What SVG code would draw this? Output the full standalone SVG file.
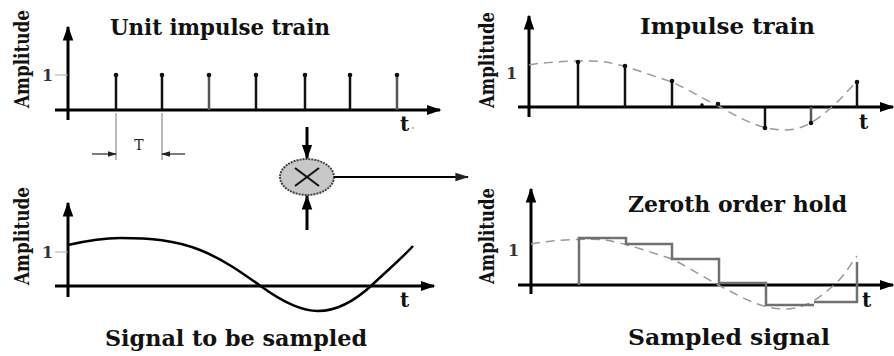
<svg xmlns="http://www.w3.org/2000/svg" width="894" height="356" viewBox="0 0 894 356" font-family="'DejaVu Serif', 'Liberation Serif', serif">
<defs>
<marker id="ah" viewBox="0 0 10 10" refX="9" refY="5" markerWidth="5" markerHeight="5" orient="auto-start-reverse" markerUnits="strokeWidth">
<path d="M0,1.5 L10,5 L0,8.5 z" fill="#000"/>
</marker>
<marker id="ahs" viewBox="0 0 10 10" refX="9" refY="5" markerWidth="7" markerHeight="7" orient="auto-start-reverse" markerUnits="strokeWidth">
<path d="M0,2 L10,5 L0,8 z" fill="#222"/>
</marker>
</defs>
<style>
text{font-family:'DejaVu Serif','Liberation Serif',serif}
.ttl{font-weight:bold;font-size:22px;fill:#111}
.amp{font-weight:bold;font-size:21px;fill:#111}
.one{font-weight:bold;font-size:16px;fill:#333}
.tl{font-weight:bold;font-size:20px;fill:#111}
.axx{stroke:#000;stroke-width:3;fill:none;marker-end:url(#ah)}
.imp{stroke:#111;stroke-width:2.5}
.impg{stroke:#555;stroke-width:2.5}
.tick{stroke:#aaa;stroke-width:1}
.dash{stroke:#999;stroke-width:1.5;fill:none;stroke-dasharray:9 6}
.stair{stroke:#707070;stroke-width:2.5;fill:none}
.sig{stroke:#000;stroke-width:2.5;fill:none}
.conn{stroke:#000;stroke-width:3;fill:none;marker-end:url(#ah)}
</style>
<rect width="894" height="356" fill="#fff"/>

<g id="unit-impulse-train">
<text class="ttl" x="110" y="35" textLength="220" lengthAdjust="spacingAndGlyphs">Unit impulse train</text>
<text class="amp" transform="translate(29,59) rotate(-90) scale(0.742,1)" text-anchor="middle" textLength="132" lengthAdjust="spacingAndGlyphs">Amplitude</text>
<line class="axx" x1="68" y1="120" x2="68" y2="27"/>
<line class="axx" x1="55" y1="110" x2="440" y2="110"/>
<line class="tick" x1="55" y1="75" x2="68" y2="75"/>
<text class="one" x="42" y="81">1</text>
<g fill="#111">
<line class="imp" x1="116" y1="110" x2="116" y2="75"/><circle cx="116" cy="75" r="2.3"/>
<line class="imp" x1="162" y1="110" x2="162" y2="75"/><circle cx="162" cy="75" r="2.3"/>
<line class="impg" x1="209" y1="110" x2="209" y2="75"/><circle cx="209" cy="75" r="2.3"/>
<line class="imp" x1="256" y1="110" x2="256" y2="75"/><circle cx="256" cy="75" r="2.3"/>
<line class="imp" x1="305" y1="110" x2="305" y2="75"/><circle cx="305" cy="75" r="2.3"/>
<line class="imp" x1="350" y1="110" x2="350" y2="75"/><circle cx="350" cy="75" r="2.3"/>
<line class="impg" x1="397" y1="110" x2="397" y2="75"/><circle cx="397" cy="75" r="2.3"/>
</g>
<text class="tl" x="400" y="131">t</text>
<circle cx="413" cy="128" r="0.8" fill="#666"/>
<line x1="116" y1="113" x2="116" y2="160" stroke="#777" stroke-width="1"/>
<line x1="162" y1="113" x2="162" y2="160" stroke="#777" stroke-width="1"/>
<line x1="92" y1="154" x2="116" y2="154" stroke="#333" stroke-width="1.3" marker-end="url(#ahs)"/>
<line x1="185" y1="154" x2="162" y2="154" stroke="#333" stroke-width="1.3" marker-end="url(#ahs)"/>
<text x="139" y="150" text-anchor="middle" font-size="14" fill="#222">T</text>
</g>

<g id="impulse-train">
<text class="ttl" x="640" y="34" textLength="175" lengthAdjust="spacingAndGlyphs">Impulse train</text>
<text class="amp" transform="translate(494,60) rotate(-90) scale(0.727,1)" text-anchor="middle" textLength="132" lengthAdjust="spacingAndGlyphs">Amplitude</text>
<line class="axx" x1="529" y1="117" x2="529" y2="16"/>
<line class="axx" x1="518" y1="107" x2="893" y2="107"/>
<text class="one" x="506" y="79" fill="#555">1</text>
<path class="dash" d="M529,65 C550,61 590,60 605,62 C625,65 650,75 672,82 C690,90 705,100 720,107 C740,118 760,130 785,130 C805,130 820,118 835,104 C845,95 850,88 857,81"/>
<g fill="#111">
<line class="imp" x1="578" y1="107" x2="578" y2="62"/><circle cx="578" cy="62" r="2.3"/>
<line class="imp" x1="625" y1="107" x2="625" y2="66"/><circle cx="625" cy="66" r="2.3"/>
<line class="imp" x1="672" y1="107" x2="672" y2="81"/><circle cx="672" cy="81" r="2.3"/>
<circle cx="702" cy="105" r="1.8"/>
<circle cx="718" cy="104" r="2.3"/>
<line class="imp" x1="765" y1="107" x2="765" y2="128"/><circle cx="765" cy="128" r="2.3"/>
<line class="impg" x1="811" y1="107" x2="811" y2="123"/><circle cx="811" cy="123" r="2.3"/>
<line class="imp" x1="857" y1="107" x2="857" y2="82"/><circle cx="857" cy="82" r="2.3"/>
</g>
<text class="tl" x="859" y="129">t</text>
</g>

<g id="signal-to-be-sampled">
<text class="ttl" x="105" y="346" textLength="262" lengthAdjust="spacingAndGlyphs">Signal to be sampled</text>
<text class="amp" transform="translate(29,236) rotate(-90) scale(0.742,1)" text-anchor="middle" textLength="132" lengthAdjust="spacingAndGlyphs">Amplitude</text>
<line class="axx" x1="68" y1="297" x2="68" y2="203"/>
<line class="axx" x1="55" y1="286" x2="434" y2="286"/>
<line class="tick" x1="55" y1="252" x2="68" y2="252"/>
<text class="one" x="42" y="258">1</text>
<path class="sig" d="M68,245 C90,240 105,238 120,238 C150,238 175,240 200,250 C225,260 245,275 262,287 C280,300 300,311 318,311 C340,311 358,298 372,285 C388,270 402,258 413,246"/>
<text class="tl" x="400" y="307">t</text>
</g>

<g id="zeroth-order-hold">
<text class="ttl" x="628" y="212" textLength="219" lengthAdjust="spacingAndGlyphs">Zeroth order hold</text>
<text class="ttl" x="628" y="345" textLength="202" lengthAdjust="spacingAndGlyphs">Sampled signal</text>
<text class="amp" transform="translate(494,236) rotate(-90) scale(0.727,1)" text-anchor="middle" textLength="132" lengthAdjust="spacingAndGlyphs">Amplitude</text>
<line class="axx" x1="531" y1="294" x2="531" y2="189"/>
<line class="axx" x1="518" y1="285" x2="893" y2="285"/>
<text class="one" x="508" y="256" fill="#555">1</text>
<path class="dash" d="M531,244 C550,240 590,238 605,240 C625,243 650,252 672,259 C690,268 705,278 720,286 C740,296 760,309 785,309 C805,309 820,298 835,284 C845,275 850,265 857,256"/>
<path class="stair" d="M579,285 V238 H626 V244 H672 V259 H719 V285 M719,283 H766 V305 H814 M814,302 H857 V262"/>
<text class="tl" x="862" y="307">t</text>
</g>

<g id="multiplier">
<ellipse cx="307" cy="177" rx="27" ry="18" fill="#c8c8c8" stroke="#444" stroke-width="2" stroke-dasharray="2 1"/>
<line x1="295" y1="168" x2="319" y2="186" stroke="#111" stroke-width="2"/>
<line x1="319" y1="168" x2="295" y2="186" stroke="#111" stroke-width="2"/>
</g>

<g id="connectors">
<line class="conn" x1="307" y1="127" x2="307" y2="158"/>
<line class="conn" x1="307" y1="230" x2="307" y2="196"/>
<line x1="334" y1="177" x2="468" y2="177" stroke="#000" stroke-width="2" marker-end="url(#ahs)"/>
</g>
</svg>
